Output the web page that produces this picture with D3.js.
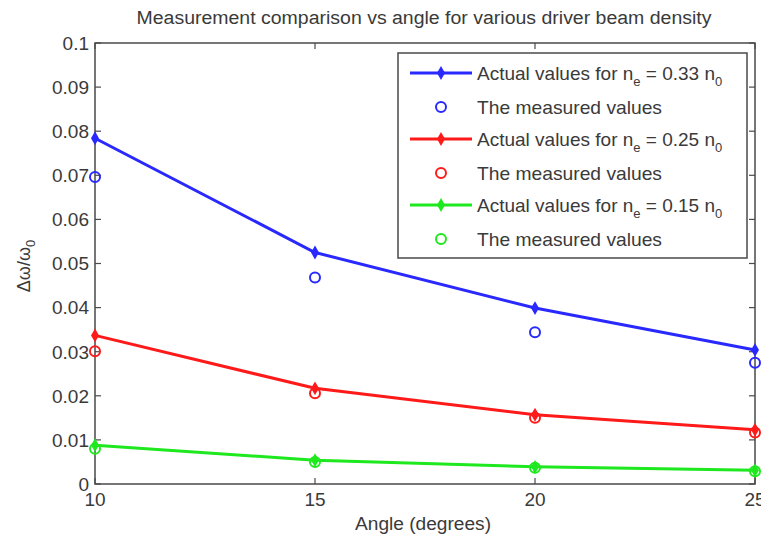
<!DOCTYPE html>
<html>
<head>
<meta charset="utf-8">
<script src="https://cdn.jsdelivr.net/npm/d3@7/dist/d3.min.js"></script>
<style>
  html, body { margin: 0; padding: 0; background: #fff; }
  svg { display: block; font-family: "Liberation Sans", Arial, sans-serif; }
</style>
</head>
<body>
<div id="chart"></div>
<script>
// ── Data ────────────────────────────────────────────────────────────────
const angles = [10, 15, 20, 25];
const yTicks = [0, 0.01, 0.02, 0.03, 0.04, 0.05, 0.06, 0.07, 0.08, 0.09, 0.1];

const actual033   = [0.0784, 0.0525, 0.0399, 0.0304];
const measured033 = [0.0696, 0.0468, 0.0344, 0.0275];
const actual025   = [0.0337, 0.0217, 0.0157, 0.0123];
const measured025 = [0.0301, 0.0206, 0.0150, 0.0117];
const actual015   = [0.0088, 0.0054, 0.0039, 0.0031];
const measured015 = [0.0080, 0.0050, 0.0037, 0.0029];

const series = [
  { ratio: "0.33", color: "#2828ff", actual: actual033, measured: measured033 },
  { ratio: "0.25", color: "#ff1a1a", actual: actual025, measured: measured025 },
  { ratio: "0.15", color: "#1ee81e", actual: actual015, measured: measured015 }
];

// ── Layout ──────────────────────────────────────────────────────────────
const W = 761, H = 540;
const mLeft = 95, mRight = 755, mTop = 43, mBottom = 484;

const x = d3.scaleLinear().domain([10, 25]).range([mLeft, mRight]);
const y = d3.scaleLinear().domain([0, 0.1]).range([mBottom, mTop]);

const svg = d3.select("#chart").append("svg")
  .attr("width", W).attr("height", H);

const axisColor = "#4a4a4a";
const textColor = "#3a3a3a";

// squeeze/stretch a text node to a target width
function fit(sel, w) {
  sel.attr("textLength", w).attr("lengthAdjust", "spacingAndGlyphs");
}

// ── Axes frame + ticks ──────────────────────────────────────────────────
svg.append("rect")
  .attr("x", mLeft).attr("y", mTop)
  .attr("width", mRight - mLeft).attr("height", mBottom - mTop)
  .attr("fill", "none").attr("stroke", axisColor).attr("stroke-width", 1.5);

const tl = 6;
const gTicks = svg.append("g").attr("stroke", axisColor).attr("stroke-width", 1.2);
yTicks.forEach(v => {
  gTicks.append("line").attr("x1", mLeft).attr("x2", mLeft + tl).attr("y1", y(v)).attr("y2", y(v));
  gTicks.append("line").attr("x1", mRight).attr("x2", mRight - tl).attr("y1", y(v)).attr("y2", y(v));
});
angles.forEach(a => {
  gTicks.append("line").attr("x1", x(a)).attr("x2", x(a)).attr("y1", mBottom).attr("y2", mBottom - tl);
  gTicks.append("line").attr("x1", x(a)).attr("x2", x(a)).attr("y1", mTop).attr("y2", mTop + tl);
});

svg.append("g").selectAll("text")
  .data(yTicks).join("text")
  .attr("x", mLeft - 6).attr("y", d => y(d))
  .attr("dy", "0.36em").attr("text-anchor", "end")
  .attr("fill", textColor).attr("font-size", "19px")
  .text(d => String(+d.toFixed(2)));

svg.append("g").selectAll("text")
  .data(angles).join("text")
  .attr("x", d => x(d)).attr("y", mBottom + 22)
  .attr("text-anchor", "middle")
  .attr("fill", textColor).attr("font-size", "19px")
  .text(d => d);

// ── Titles ──────────────────────────────────────────────────────────────
svg.append("text")
  .attr("x", 424).attr("y", 24).attr("text-anchor", "middle")
  .attr("fill", textColor).attr("font-size", "18px")
  .text("Measurement comparison vs angle for various driver beam density")
  .call(fit, 575);

svg.append("text")
  .attr("x", 423).attr("y", 530).attr("text-anchor", "middle")
  .attr("fill", textColor).attr("font-size", "18px")
  .text("Angle (degrees)")
  .call(fit, 136);

const yl = svg.append("text")
  .attr("transform", "translate(30,266) rotate(-90)")
  .attr("text-anchor", "middle")
  .attr("fill", textColor).attr("font-size", "18px");
yl.append("tspan").text("\u0394\u03c9/\u03c9");
yl.append("tspan").attr("font-size", "13px").attr("dy", 5).text("0");

// ── Series ──────────────────────────────────────────────────────────────
const line = d3.line().x((d, i) => x(angles[i])).y(d => y(d));
const diamond = d3.symbol().type(d3.symbolDiamond).size(55);

const plot = svg.append("g");
series.forEach(s => {
  plot.append("path")
    .attr("d", line(s.actual))
    .attr("fill", "none").attr("stroke", s.color).attr("stroke-width", 3);
  plot.append("g").selectAll("path")
    .data(s.actual).join("path")
    .attr("d", diamond)
    .attr("transform", (d, i) => `translate(${x(angles[i])},${y(d)})`)
    .attr("fill", s.color);
  plot.append("g").selectAll("circle")
    .data(s.measured).join("circle")
    .attr("cx", (d, i) => x(angles[i])).attr("cy", d => y(d))
    .attr("r", 5).attr("fill", "none")
    .attr("stroke", s.color).attr("stroke-width", 2);
});

// ── Legend ──────────────────────────────────────────────────────────────
const lg = svg.append("g");
lg.append("rect")
  .attr("x", 398).attr("y", 53).attr("width", 349).attr("height", 205)
  .attr("fill", "#fff").attr("stroke", axisColor).attr("stroke-width", 1.5);

const rowY = [73, 107, 139, 173, 205, 239];
series.forEach((s, k) => {
  const ya = rowY[2 * k], ym = rowY[2 * k + 1];
  lg.append("line")
    .attr("x1", 410).attr("x2", 472).attr("y1", ya).attr("y2", ya)
    .attr("stroke", s.color).attr("stroke-width", 3);
  lg.append("path").attr("d", diamond)
    .attr("transform", `translate(441,${ya})`).attr("fill", s.color);
  const t = lg.append("text")
    .attr("x", 477).attr("y", ya).attr("dy", "0.36em")
    .attr("fill", textColor).attr("font-size", "19px");
  t.append("tspan").text("Actual values for n");
  t.append("tspan").attr("font-size", "13px").attr("dy", 6).text("e");
  t.append("tspan").attr("dy", -6).text(` = ${s.ratio} n`);
  t.append("tspan").attr("font-size", "13px").attr("dy", 6).text("0");

  lg.append("circle")
    .attr("cx", 441).attr("cy", ym).attr("r", 5)
    .attr("fill", "none").attr("stroke", s.color).attr("stroke-width", 2);
  lg.append("text")
    .attr("x", 477).attr("y", ym).attr("dy", "0.36em")
    .attr("fill", textColor).attr("font-size", "19px")
    .text("The measured values")
    .call(fit, 185);
});
</script>
</body>
</html>
